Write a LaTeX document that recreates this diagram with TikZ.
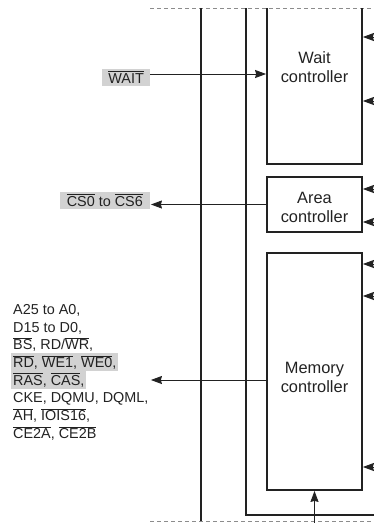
\documentclass[tikz,border=0pt]{standalone}
\usepackage{fontspec}
\setmainfont{Liberation Sans}
\usetikzlibrary{arrows.meta,positioning}
\definecolor{figink}{HTML}{222222}
\definecolor{figshade}{HTML}{D2D2D2}
\definecolor{figdash}{HTML}{8C8C8C}
\newcommand{\ovl}[1]{$\overline{\mbox{#1}}$}
\newcommand{\pinrow}[4]{%
  \node[pinrow,fill=#3] (#2) at (11,#1) {#4};
}
\tikzset{
  ctrlbox/.style={draw=figink,line width=1.8pt,inner sep=0pt,outer sep=0pt,minimum width=95pt},
  ctrltext/.style={align=center,text=figink,font=\fontsize{16.4}{19}\selectfont},
  pinrow/.style={anchor=base west,inner xsep=2pt,inner ysep=2pt,text height=12pt,text depth=2pt,
    text=figink,font=\fontsize{14.4}{17.7}\selectfont},
  pinlabel/.style={fill=figshade,inner xsep=6pt,inner ysep=2pt,text height=12pt,text depth=1pt,
    text=figink,font=\fontsize{14.4}{17.7}\selectfont},
  bus/.style={draw=figink,line width=1.8pt},
  sig/.style={draw=figink,line width=0.9pt,shorten >=0.9pt,-{Stealth[length=11pt,width=8pt,inset=1pt]}},
  cutline/.style={draw=figdash,line width=0.8pt,dash pattern=on 4pt off 3pt}
}

\begin{document}
\begin{tikzpicture}[x=1pt,y=-1pt]
  \useasboundingbox (0,0) rectangle (374,523);
  % chip boundary and internal buses
  \draw[cutline] (150,8) -- (374,8);
  \draw[cutline] (150,521) -- (374,521);
  \draw[bus] (201,8) -- (201,521);
  \draw[bus] (246,8) -- (246,515) -- (374,515);

  % controllers
  \node[ctrlbox,draw=none,minimum height=156pt] (wait) at (314.5,86) {};
  \draw[bus] (wait.north west) -- (wait.south west) -- (wait.south east) -- (wait.north east);
  \node[ctrlbox,minimum height=55pt,below=13pt of wait] (area) {};
  \node[ctrlbox,minimum height=237pt,below=21pt of area] (mem) {};
  \node[ctrltext] (waittxt) at (314.5,67) {Wait\\controller};
  \node[ctrltext] (areatxt) at (314.5,207) {Area\\controller};
  \node[ctrltext] (memtxt) at (314.5,377) {Memory\\controller};

  % inputs from the right
  \foreach \y/\n in {37/wa,101/wb} {
    \coordinate (\n) at (374,\y);
    \draw[sig] (\n) -- (wait.east |- \n);
  }
  \foreach \y/\n in {189/aa,222/ab} {
    \coordinate (\n) at (374,\y);
    \draw[sig] (\n) -- (area.east |- \n);
  }
  \foreach \y/\n in {264/ma,296/mb,467/mc} {
    \coordinate (\n) at (374,\y);
    \draw[sig] (\n) -- (mem.east |- \n);
  }
  \coordinate (memin) at (mem.south |- 0,523);
  \draw[sig] (memin) -- (mem.south);

  % external pins
  \node[pinlabel,anchor=east] (waitpin) at (150,77.5) {\ovl{WAIT}};
  \coordinate (waitout) at ([yshift=3.5pt]waitpin.east);
  \draw[sig] (waitout) -- (waitout -| wait.west);

  \node[pinlabel,anchor=east,inner xsep=7pt] (cspin) at (150,200.5) {\ovl{CS0} to \ovl{CS6}};
  \draw[sig] (area.west) -- (area.west -| cspin.east);

  \pinrow{314.3}{pa}{none}{A25 to A0,}
  \pinrow{332}{pb}{none}{D15 to D0,}
  \pinrow{349.7}{pc}{none}{\ovl{BS}, RD/\ovl{WR},}
  \pinrow{367.4}{pd}{figshade}{\ovl{RD}, \ovl{WE1}, \ovl{WE0},\hspace{2pt}}
  \pinrow{385.1}{pe}{figshade}{\ovl{RAS}, \ovl{CAS},\hspace{5pt}}
  \pinrow{402.8}{pf}{none}{CKE, DQMU, DQML,}
  \pinrow{420.5}{pg}{none}{\ovl{AH}, \ovl{IOIS16},}
  \pinrow{438.2}{ph}{none}{\ovl{CE2A}, \ovl{CE2B}}
  \coordinate (memout) at (150,380);
  \draw[sig] (mem.west |- memout) -- (memout);
\end{tikzpicture}
\end{document}
